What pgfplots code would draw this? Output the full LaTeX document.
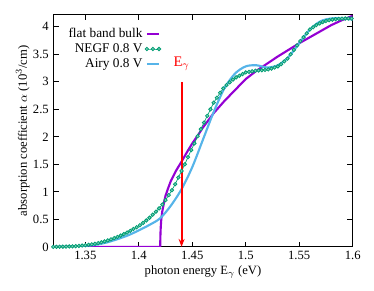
\documentclass[border=0pt]{standalone}
\usepackage{pgfplots}
\pgfplotsset{compat=1.18}
\usepackage{fontspec}
\setmainfont{Liberation Serif}
\usetikzlibrary{arrows.meta}
\definecolor{gpurple}{HTML}{9400D3}
\definecolor{ggreen}{HTML}{009E73}
\definecolor{gblue}{HTML}{56B4E9}
\definecolor{gred}{HTML}{FF0000}
\begin{document}
\fontsize{9.5}{11}\selectfont
\begin{tikzpicture}
\begin{axis}[
  name=ax,
  scale only axis,
  width=225pt, height=174.5pt,
  xmin=1.32, xmax=1.6, ymin=0, ymax=4.22,
  xtick={1.35,1.4,1.45,1.5,1.55,1.6},
  ytick={0,0.5,1,1.5,2,2.5,3,3.5,4},
  tick align=inside,
  major tick length=4pt,
  tick style={black, line width=0.6pt},
  axis line style={line width=0.7pt},
  /pgf/number format/assume math mode=true,
  ticklabel style={font=\fontsize{9.5}{11}\selectfont},
  xlabel={photon energy E$_\gamma$ (eV)},
  ylabel={absorption coefficient $\alpha$ (10$^3$/cm)},
  label style={font=\fontsize{9.5}{11}\selectfont},
  xlabel style={yshift=2pt},
  ylabel style={yshift=-4pt},
  legend style={draw=none, fill=none, at={(0.028,0.965)}, anchor=north west,
    font=\fontsize{10}{12}\selectfont, row sep=-1pt},
  legend cell align=right,
  legend plot pos=right,
  legend image code/.code={\draw[#1] plot coordinates {(0cm,0cm) (0.16cm,0cm) (0.32cm,0cm)};},
]
\addplot[gpurple, line width=1.6pt, no marks] coordinates {
(1.32,0) (1.42,0) (1.4202,0.2) (1.4205,0.35) (1.421,0.5) (1.422,0.65) (1.4235,0.8) (1.425,0.93)
(1.4275,1.07) (1.43,1.2) (1.435,1.39) (1.44,1.55) (1.445,1.72) (1.45,1.88) (1.455,2.02)
(1.46,2.17) (1.465,2.3) (1.47,2.43) (1.475,2.54) (1.48,2.65) (1.49,2.85) (1.50,3.05)
(1.51,3.2) (1.52,3.33) (1.53,3.46) (1.54,3.58) (1.55,3.7) (1.56,3.81) (1.57,3.92)
(1.58,4.03) (1.59,4.12) (1.60,4.2)
};
\addlegendentry{flat band bulk}
\addplot[ggreen, line width=0.5pt, mark=*, mark size=1.3pt,
  mark options={fill=ggreen!50!white, draw=ggreen, line width=0.6pt}] coordinates {
(1.320,0.000) (1.323,0.001) (1.326,0.003) (1.329,0.004) (1.332,0.006) (1.335,0.008)
(1.338,0.010) (1.341,0.013) (1.344,0.018) (1.347,0.024) (1.350,0.030) (1.353,0.038)
(1.356,0.046) (1.359,0.056) (1.362,0.068) (1.365,0.083) (1.368,0.099) (1.371,0.117)
(1.374,0.137) (1.377,0.158) (1.380,0.180) (1.383,0.205) (1.386,0.232) (1.389,0.260)
(1.392,0.292) (1.395,0.325) (1.398,0.357) (1.401,0.393) (1.404,0.435) (1.407,0.480)
(1.410,0.530) (1.413,0.585) (1.416,0.640) (1.419,0.700) (1.422,0.770) (1.425,0.850)
(1.428,0.940) (1.431,1.030) (1.434,1.140) (1.437,1.260) (1.440,1.380) (1.443,1.500)
(1.446,1.630) (1.449,1.760) (1.452,1.880) (1.455,2.010) (1.458,2.140) (1.461,2.260)
(1.464,2.380) (1.467,2.500) (1.470,2.620) (1.473,2.710) (1.476,2.800) (1.479,2.880)
(1.482,2.940) (1.485,2.990) (1.488,3.040) (1.491,3.080) (1.494,3.110) (1.497,3.140)
(1.500,3.170) (1.503,3.180) (1.506,3.190) (1.509,3.200) (1.512,3.205) (1.515,3.210)
(1.518,3.215) (1.521,3.225) (1.524,3.240) (1.527,3.260) (1.530,3.280) (1.533,3.320)
(1.536,3.370) (1.539,3.420) (1.542,3.500) (1.545,3.580) (1.548,3.660) (1.551,3.740)
(1.554,3.810) (1.557,3.880) (1.560,3.950) (1.563,3.990) (1.566,4.030) (1.569,4.060)
(1.572,4.085) (1.575,4.105) (1.578,4.120) (1.581,4.130) (1.584,4.138) (1.587,4.143)
(1.590,4.147) (1.593,4.150) (1.596,4.150) (1.599,4.150)
};
\addlegendentry{NEGF 0.8 V}
\addplot[gblue, line width=1.6pt, no marks, smooth] coordinates {
(1.32,0) (1.33,0.003) (1.34,0.01) (1.35,0.02) (1.36,0.04) (1.37,0.08) (1.38,0.14)
(1.39,0.21) (1.40,0.3) (1.41,0.4) (1.42,0.52) (1.43,0.75) (1.44,1.05) (1.45,1.45)
(1.46,1.95) (1.47,2.45) (1.48,2.88) (1.49,3.15) (1.50,3.28) (1.51,3.3) (1.52,3.26)
(1.53,3.3) (1.54,3.45) (1.55,3.7) (1.56,3.95) (1.57,4.1) (1.58,4.15) (1.59,4.15) (1.60,4.13)
};
\addlegendentry{Airy 0.8 V}
\draw[draw=gred, fill=gred, line width=1.5pt, -{Stealth[length=6pt,width=4.5pt]}] (axis cs:1.44,3.0) -- (axis cs:1.44,0);
\node[text=gred, anchor=south, inner sep=0pt, font=\fontsize{11}{13}\selectfont] at (axis cs:1.44,3.2) {E$_\gamma$};
\end{axis}
\pgfresetboundingbox
\path ([shift={(-40pt,-32.8pt)}]ax.south west) rectangle ([shift={(16pt,11pt)}]ax.north east);
\end{tikzpicture}
\end{document}
